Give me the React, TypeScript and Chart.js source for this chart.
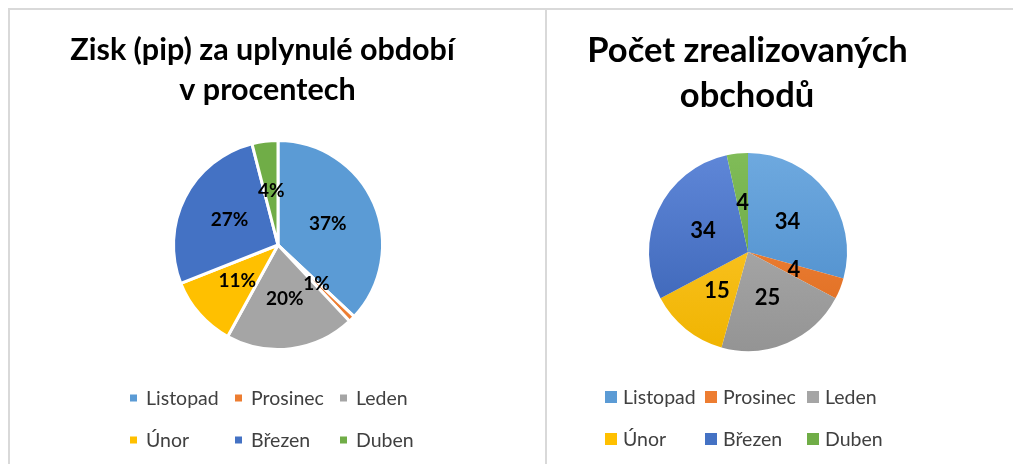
import React, { useEffect, useRef } from "react";
import { Chart, registerables } from "chart.js";

Chart.register(...registerables);

// ---------- data ----------
const categories = ["Listopad", "Prosinec", "Leden", "Únor", "Březen", "Duben"];
const profitPercent = [37, 1, 20, 11, 27, 4];
const tradeCounts = [34, 4, 25, 15, 34, 4];
const profitTitle = ["Zisk (pip) za uplynulé období", "v procentech"];
const tradesTitle = ["Počet zrealizovaných", "obchodů"];

// ---------- styles ----------
const baseColors = ["#5B9BD5", "#ED7D31", "#A5A5A5", "#FFC000", "#4472C4", "#70AD47"];
const gradTop = ["#6EA9DF", "#F28B45", "#B4B4B4", "#FFCB38", "#5F87D8", "#80BC58"];
const gradBottom = ["#4889C9", "#DE6A1C", "#949494", "#F0B400", "#3760B2", "#62A03A"];
const FONT = "Lato, 'Open Sans', 'Noto Sans', sans-serif";
const BORDER = "2px solid #d9d9d9";

type Layout = {
  width: number;
  height: number;
  cx: number;
  cy: number;
  side: number;
  titleLines: { cx: number; baseline: number }[];
  titleSize: number;
  labelSize: number;
  labelRadius: number;
  legendCols: number[];
  legendRows: number[];
  legendBox: number;
  legendTextOffset: number;
  legendSize: number;
};

function makeOverlayPlugin(title: string[], lay: Layout, fmt: (v: number) => string) {
  return {
    id: "overlay",
    afterDatasetsDraw(chart: any) {
      const ctx = chart.ctx as CanvasRenderingContext2D;
      const meta = chart.getDatasetMeta(0);
      const values = chart.data.datasets[0].data as number[];
      ctx.save();
      ctx.fillStyle = "#000000";
      ctx.textAlign = "center";
      ctx.textBaseline = "middle";
      ctx.font = `bold ${lay.labelSize}px ${FONT}`;
      meta.data.forEach((arc: any, i: number) => {
        const p = arc.getProps(["x", "y", "startAngle", "endAngle", "outerRadius"], true);
        const mid = (p.startAngle + p.endAngle) / 2;
        const r = p.outerRadius * lay.labelRadius;
        ctx.fillText(fmt(values[i]), p.x + Math.cos(mid) * r, p.y + Math.sin(mid) * r);
      });
      ctx.restore();
    },
    afterDraw(chart: any) {
      const ctx = chart.ctx as CanvasRenderingContext2D;
      ctx.save();
      // title
      ctx.fillStyle = "#000000";
      ctx.textAlign = "center";
      ctx.textBaseline = "alphabetic";
      ctx.font = `bold ${lay.titleSize}px ${FONT}`;
      title.forEach((line, i) => {
        const pos = lay.titleLines[i];
        ctx.fillText(line, pos.cx, pos.baseline);
      });
      // legend
      ctx.font = `${lay.legendSize}px ${FONT}`;
      ctx.textAlign = "left";
      ctx.textBaseline = "middle";
      const labels = chart.data.labels as string[];
      labels.forEach((lab, i) => {
        const col = i % lay.legendCols.length;
        const row = Math.floor(i / lay.legendCols.length);
        const x = lay.legendCols[col];
        const y = lay.legendRows[row];
        ctx.fillStyle = baseColors[i];
        ctx.fillRect(x, y - lay.legendBox / 2, lay.legendBox, lay.legendBox);
        ctx.fillStyle = "#404040";
        ctx.fillText(lab, x + lay.legendTextOffset, y + 1);
      });
      ctx.restore();
    },
  };
}

function PieBox(props: {
  values: number[];
  title: string[];
  lay: Layout;
  fmt: (v: number) => string;
  gradient: boolean;
  borderWidth: number;
}) {
  const ref = useRef<HTMLCanvasElement>(null);
  useEffect(() => {
    const { lay } = props;
    const canvas = ref.current!;
    const half = lay.side / 2;
    const bg = props.gradient
      ? (c: any) => {
          const chart = c.chart;
          const area = chart.chartArea;
          const i = c.dataIndex;
          if (!area) return baseColors[i];
          const g = chart.ctx.createLinearGradient(0, area.top, 0, area.bottom);
          g.addColorStop(0, gradTop[i]);
          g.addColorStop(1, gradBottom[i]);
          return g;
        }
      : baseColors;
    const chart = new Chart(canvas, {
      type: "pie",
      data: {
        labels: categories,
        datasets: [
          {
            data: props.values,
            backgroundColor: bg as any,
            borderColor: "#ffffff",
            borderWidth: props.borderWidth,
          },
        ],
      },
      options: {
        responsive: false,
        animation: false,
        devicePixelRatio: 1,
        layout: {
          padding: {
            left: lay.cx - half,
            right: lay.width - (lay.cx + half),
            top: lay.cy - half,
            bottom: lay.height - (lay.cy + half),
          },
        },
        plugins: {
          legend: { display: false },
          title: { display: false },
          tooltip: { enabled: false },
        },
      },
      plugins: [makeOverlayPlugin(props.title, lay, props.fmt)],
    });
    return () => chart.destroy();
  }, []);
  return (
    <canvas
      ref={ref}
      width={props.lay.width}
      height={props.lay.height}
      style={{ display: "block", width: props.lay.width, height: props.lay.height }}
    />
  );
}

const leftLayout: Layout = {
  width: 535,
  height: 446,
  cx: 268,
  cy: 235,
  side: 212,
  titleLines: [
    { cx: 252.5, baseline: 50 },
    { cx: 257.5, baseline: 90 },
  ],
  titleSize: 30.5,
  labelSize: 19,
  labelRadius: 0.52,
  legendCols: [120, 225, 330],
  legendRows: [388, 430],
  legendBox: 7,
  legendTextOffset: 16,
  legendSize: 19.5,
};

const rightLayout: Layout = {
  width: 474,
  height: 446,
  cx: 201,
  cy: 242,
  side: 198,
  titleLines: [
    { cx: 200.5, baseline: 52 },
    { cx: 200, baseline: 97 },
  ],
  titleSize: 34.5,
  labelSize: 22,
  labelRadius: 0.5,
  legendCols: [58, 158, 260],
  legendRows: [387, 429],
  legendBox: 12,
  legendTextOffset: 18,
  legendSize: 19.5,
};

export default function App() {
  return (
    <div style={{ position: "relative", width: 1013, height: 456, overflow: "hidden" }}>
      <div
        style={{
          position: "absolute",
          left: 0,
          top: 0,
          width: 537,
          height: 456,
          boxSizing: "border-box",
          borderTop: BORDER,
          borderLeft: BORDER,
        }}
      >
        <PieBox
          values={profitPercent}
          title={profitTitle}
          lay={leftLayout}
          fmt={(v) => `${v}%`}
          gradient={false}
          borderWidth={3}
        />
      </div>
      <div
        style={{
          position: "absolute",
          left: 537,
          top: 0,
          width: 476,
          height: 456,
          boxSizing: "border-box",
          borderTop: BORDER,
          borderLeft: BORDER,
        }}
      >
        <PieBox
          values={tradeCounts}
          title={tradesTitle}
          lay={rightLayout}
          fmt={(v) => `${v}`}
          gradient={true}
          borderWidth={0}
        />
      </div>
    </div>
  );
}
